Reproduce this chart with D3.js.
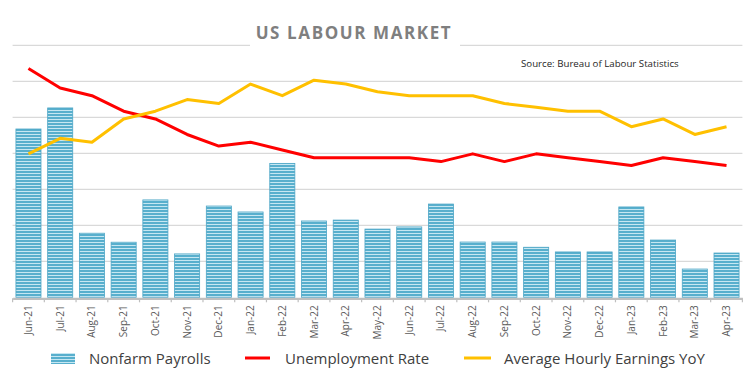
<!DOCTYPE html>
<html>
<head>
<meta charset="utf-8">
<script src="https://cdn.jsdelivr.net/npm/d3@7"></script>
<style>
  body { margin: 0; background: #fff; }
  svg { display: block; font-family: "Open Sans", sans-serif; }
</style>
</head>
<body>
<svg id="chart"></svg>
<script>
// months shown on the x axis
const months = ["Jun-21", "Jul-21", "Aug-21", "Sep-21", "Oct-21", "Nov-21", "Dec-21",
  "Jan-22", "Feb-22", "Mar-22", "Apr-22", "May-22", "Jun-22", "Jul-22", "Aug-22",
  "Sep-22", "Oct-22", "Nov-22", "Dec-22", "Jan-23", "Feb-23", "Mar-23", "Apr-23"];

// nonfarm payrolls (thousands)
const payrolls = [935, 1052, 356, 306, 541, 241, 507, 474, 744, 424, 429, 379, 391,
  518, 307, 307, 278, 252, 252, 502, 318, 157, 246];

// unemployment rate (%)
const unemployment = [5.9, 5.4, 5.2, 4.8, 4.6, 4.2, 3.9, 4.0, 3.8, 3.6, 3.6, 3.6, 3.6,
  3.5, 3.7, 3.5, 3.7, 3.6, 3.5, 3.4, 3.6, 3.5, 3.4];

// average hourly earnings, yoy (%)
const earnings = [3.7, 4.1, 4.0, 4.6, 4.8, 5.1, 5.0, 5.5, 5.2, 5.6, 5.5, 5.3, 5.2,
  5.2, 5.2, 5.0, 4.9, 4.8, 4.8, 4.4, 4.6, 4.2, 4.4];

const barTicks = [200, 400, 600, 800, 1000, 1200, 1400];

const W = 750, H = 391;
const plot = { left: 12.6, right: 742.4, top: 45.3, bottom: 297.3 };

const svg = d3.select("#chart").attr("width", W).attr("height", H);

// stripe pattern for the bars
const defs = svg.append("defs");
const pat = defs.append("pattern")
    .attr("id", "stripes")
    .attr("patternUnits", "userSpaceOnUse")
    .attr("width", 6).attr("height", 3);
pat.append("rect").attr("width", 6).attr("height", 3).attr("fill", "#58afcd");
pat.append("rect").attr("y", 2).attr("width", 6).attr("height", 1).attr("fill", "#c6e7f2");

const x = d3.scaleBand()
    .domain(months)
    .range([plot.left, plot.right])
    .paddingInner(0.21)
    .paddingOuter(0.105);

const yBar = d3.scaleLinear().domain([0, 1400]).range([plot.bottom, plot.top]);
const yLine = d3.scaleLinear().domain([0, 6.5]).range([plot.bottom, plot.top]);

// gridlines
svg.append("g")
    .selectAll("line")
    .data(barTicks)
    .join("line")
    .attr("x1", plot.left).attr("x2", plot.right)
    .attr("y1", d => yBar(d)).attr("y2", d => yBar(d))
    .attr("stroke", "#d9d9d9")
    .attr("stroke-width", 1.2);

// bars
svg.append("g")
    .selectAll("rect")
    .data(payrolls)
    .join("rect")
    .attr("x", (d, i) => x(months[i]))
    .attr("y", d => yBar(d))
    .attr("width", x.bandwidth())
    .attr("height", d => plot.bottom - yBar(d))
    .attr("fill", "url(#stripes)")
    .attr("stroke", "#4da6c6")
    .attr("stroke-width", 0.8);

// x axis
const xAxis = svg.append("g")
    .attr("transform", `translate(0,${plot.bottom + 1})`)
    .call(d3.axisBottom(x).tickSize(0));
xAxis.select(".domain").attr("stroke", "#bfbfbf").attr("stroke-width", 2.2);

// small tick marks at band edges
svg.append("g")
    .selectAll("line")
    .data(d3.range(months.length + 1))
    .join("line")
    .attr("x1", i => plot.left + i * x.step())
    .attr("x2", i => plot.left + i * x.step())
    .attr("y1", plot.bottom + 1)
    .attr("y2", plot.bottom + 5)
    .attr("stroke", "#bfbfbf")
    .attr("stroke-width", 1.2);

xAxis.selectAll("text")
    .attr("transform", "rotate(-90)")
    .attr("x", -7)
    .attr("y", 0)
    .attr("dy", "0.35em")
    .style("text-anchor", "end")
    .attr("fill", "#595959")
    .style("font-size", "10px")
    .style("font-family", "Open Sans, sans-serif");

// lines
const lineGen = yScale => d3.line()
    .x((d, i) => x(months[i]) + x.bandwidth() / 2)
    .y(d => yScale(d));

svg.append("path")
    .datum(unemployment)
    .attr("d", lineGen(yLine))
    .attr("fill", "none")
    .attr("stroke", "#ff0000")
    .attr("stroke-width", 3)
    .attr("stroke-linejoin", "round");

svg.append("path")
    .datum(earnings)
    .attr("d", lineGen(yLine))
    .attr("fill", "none")
    .attr("stroke", "#ffc000")
    .attr("stroke-width", 3)
    .attr("stroke-linejoin", "round");

// title with a white box over the top gridline
svg.append("rect")
    .attr("x", 250).attr("y", 20)
    .attr("width", 210).attr("height", 32)
    .attr("fill", "#fff");
svg.append("text")
    .attr("x", 354).attr("y", 39)
    .attr("text-anchor", "middle")
    .attr("fill", "#7f7f7f")
    .style("font-size", "17px")
    .style("font-weight", "bold")
    .style("letter-spacing", "1.6px")
    .text("US LABOUR MARKET");

svg.append("text")
    .attr("x", 521).attr("y", 67)
    .attr("fill", "#262626")
    .style("font-size", "9.7px")
    .text("Source: Bureau of Labour Statistics");

// legend
const legend = svg.append("g").style("font-size", "15px").attr("fill", "#404040");
legend.append("rect")
    .attr("x", 51).attr("y", 353).attr("width", 24).attr("height", 11)
    .attr("fill", "url(#stripes)");
legend.append("text").attr("x", 89).attr("y", 364).text("Nonfarm Payrolls");
legend.append("line")
    .attr("x1", 245).attr("x2", 270).attr("y1", 358).attr("y2", 358)
    .attr("stroke", "#ff0000").attr("stroke-width", 3);
legend.append("text").attr("x", 285).attr("y", 364).text("Unemployment Rate");
legend.append("line")
    .attr("x1", 464).attr("x2", 491).attr("y1", 358).attr("y2", 358)
    .attr("stroke", "#ffc000").attr("stroke-width", 3);
legend.append("text").attr("x", 504).attr("y", 364).text("Average Hourly Earnings YoY");
</script>
</body>
</html>
